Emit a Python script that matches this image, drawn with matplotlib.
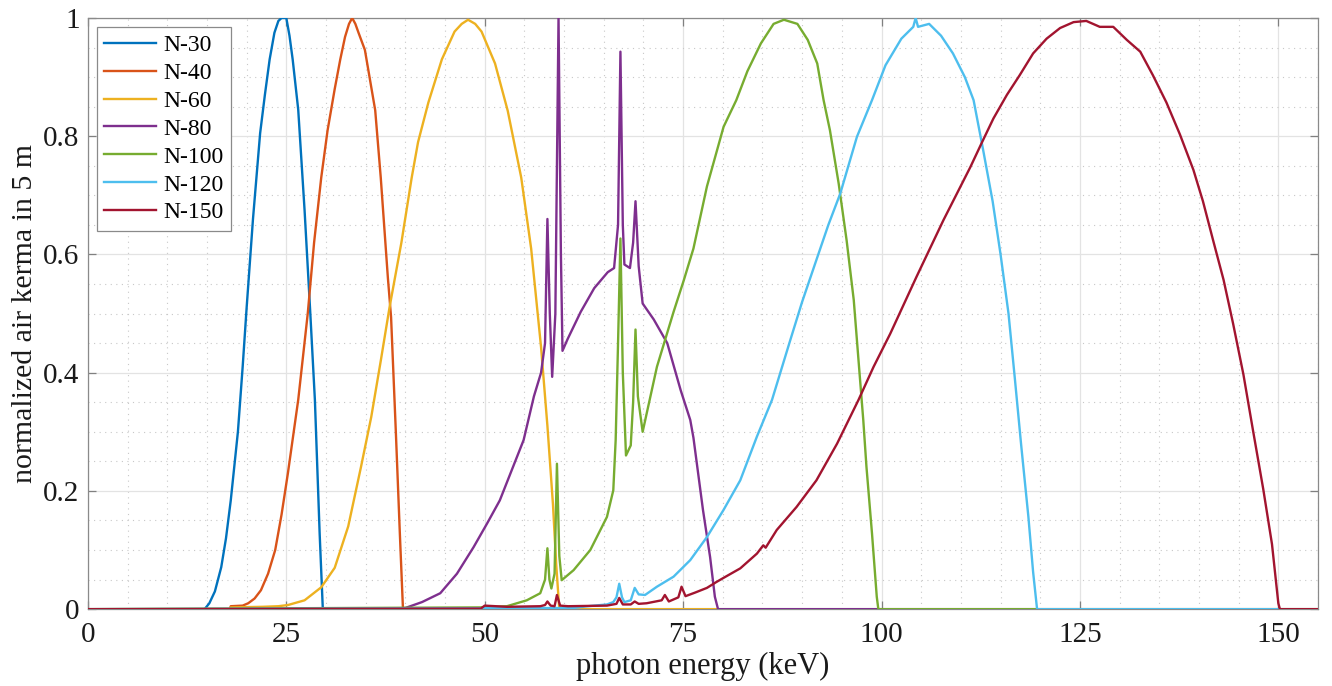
import matplotlib.pyplot as plt
from matplotlib.ticker import MultipleLocator

plt.rcParams['font.family'] = ['Liberation Serif', 'DejaVu Serif']

# ---------------------------------------------------------------------------
# DATA: normalized air kerma spectra
# ---------------------------------------------------------------------------
labels = ['N-30', 'N-40', 'N-60', 'N-80', 'N-100', 'N-120', 'N-150']
colors = ['#0072BD', '#D95319', '#EDB120', '#7E2F8E', '#77AC30', '#4DBEEE', '#A2142F']

e_n30 = [0, 14.7, 15.3, 16.0, 16.8, 17.4, 18.0, 18.9, 19.5, 20.0, 20.8, 21.7, 22.3,
         22.9, 23.5, 24.0, 24.4, 25.0, 25.4, 25.8, 26.5, 27.3, 28.0, 28.6, 29.2, 29.6,
         30.0, 155]
k_n30 = [0, 0, 0.01, 0.03, 0.071, 0.12, 0.184, 0.30, 0.41, 0.51, 0.66, 0.805, 0.87,
         0.93, 0.975, 0.995, 1.0, 1.0, 0.97, 0.93, 0.845, 0.675, 0.506, 0.354, 0.128, 0.0,
         0, 0]

e_n40 = [0, 17.9, 18.0, 19.5, 20.2, 21.0, 21.8, 22.7, 23.6, 24.4, 25.2, 26.5, 27.7, 28.5,
         29.4, 30.2, 31.1, 31.8, 32.4, 32.9, 33.3, 33.7, 34.1, 34.9, 36.2, 36.9, 37.8,
         38.2, 38.8, 39.3, 39.7, 40.2, 155]
k_n40 = [0, 0, 0.005, 0.006, 0.01, 0.018, 0.032, 0.06, 0.1, 0.16, 0.23, 0.354, 0.50, 0.62,
         0.73, 0.81, 0.88, 0.93, 0.968, 0.99, 1.0, 0.99, 0.975, 0.946, 0.844, 0.73, 0.56,
         0.494, 0.30, 0.13, 0.0, 0, 0]

e_n60 = [0, 17.9, 18.0, 22.0, 24.0, 25.2, 27.3, 29.4, 31.1, 32.8, 34.4, 35.7, 36.9, 38.0,
         39.5, 40.8, 41.6, 42.9, 44.6, 46.2, 47.1, 47.9, 48.8, 49.6, 51.3, 52.9, 54.6,
         55.85, 57.1, 57.9, 58.6, 59.0, 59.4, 155]
k_n60 = [0, 0, 0.003, 0.004, 0.005, 0.007, 0.015, 0.037, 0.07, 0.14, 0.24, 0.325, 0.42, 0.51,
         0.62, 0.73, 0.79, 0.857, 0.93, 0.977, 0.99, 0.997, 0.99, 0.977, 0.923, 0.843, 0.73,
         0.61, 0.443, 0.31, 0.177, 0.077, 0.0, 0]

e_n80 = [0, 38.0, 40.0, 42.1, 44.4, 46.5, 48.6, 50.3, 51.9, 53.4, 54.9, 56.2, 57.1, 57.6,
         57.9, 58.2, 58.5, 58.9, 59.3, 59.6, 59.8, 60.45, 62.1, 63.8, 65.5, 66.3, 66.8,
         67.1, 67.4, 67.6, 68.3, 68.7, 69.0, 69.4, 69.9, 71.3, 73.0, 74.7, 75.9, 76.3,
         77.5, 78.4, 79.0, 79.4, 155]
k_n80 = [0, 0, 0.002, 0.012, 0.027, 0.06, 0.105, 0.145, 0.184, 0.235, 0.286, 0.36, 0.40, 0.45,
         0.66, 0.5, 0.393, 0.5, 1.0, 0.6, 0.437, 0.457, 0.503, 0.543, 0.57, 0.577, 0.65,
         0.943, 0.65, 0.583, 0.577, 0.62, 0.69, 0.58, 0.517, 0.49, 0.45, 0.37, 0.32, 0.29,
         0.168, 0.088, 0.021, 0.0, 0]

e_n100 = [0, 49.8, 52.8, 55.3, 57.0, 57.6, 57.9, 58.15, 58.4, 58.8, 59.1, 59.4, 59.7, 61.2,
          63.3, 65.4, 66.2, 66.5, 66.8, 67.1, 67.4, 67.8, 68.4, 68.7, 69.0, 69.3, 69.9,
          71.7, 73.8, 75.1, 76.3, 78.0, 80.1, 81.7, 83.1, 84.8, 86.4, 87.7, 89.4, 90.7,
          91.9, 92.7, 93.5, 94.6, 95.6, 96.5, 97.1, 97.7, 98.1, 98.8, 99.4, 99.6, 155]
k_n100 = [0, 0.003, 0.005, 0.015, 0.027, 0.05, 0.103, 0.05, 0.035, 0.06, 0.246, 0.09, 0.049,
          0.066, 0.1, 0.156, 0.201, 0.286, 0.45, 0.627, 0.4, 0.26, 0.277, 0.35, 0.473, 0.36,
          0.30, 0.41, 0.503, 0.557, 0.61, 0.715, 0.816, 0.861, 0.91, 0.957, 0.99, 0.997,
          0.99, 0.963, 0.923, 0.861, 0.81, 0.72, 0.624, 0.523, 0.421, 0.32, 0.241, 0.128,
          0.021, 0.0, 0]

e_n120 = [0, 61.2, 63.0, 65.4, 66.2, 66.6, 66.95, 67.3, 67.6, 68.4, 68.9, 69.4, 70.2, 71.7,
          73.8, 75.9, 78.0, 80.1, 82.2, 84.3, 86.2, 88.5, 90.0, 91.8, 93.3, 94.8, 96.9,
          98.8, 100.5, 102.5, 104.0, 104.3, 104.6, 106.0, 107.5, 109.0, 110.5, 111.6, 112.8,
          114.0, 115.0, 116.0, 116.8, 117.6, 118.5, 119.1, 119.6, 155]
k_n120 = [0, 0.002, 0.005, 0.008, 0.012, 0.02, 0.043, 0.02, 0.012, 0.015, 0.036, 0.025, 0.024,
          0.038, 0.055, 0.083, 0.122, 0.168, 0.218, 0.292, 0.354, 0.455, 0.52, 0.591, 0.65,
          0.703, 0.799, 0.861, 0.92, 0.965, 0.985, 1.0, 0.985, 0.99, 0.97, 0.94, 0.90,
          0.861, 0.777, 0.69, 0.60, 0.50, 0.39, 0.277, 0.157, 0.063, 0.0, 0]

e_n150 = [0, 49.5, 50.0, 52.8, 57.0, 57.6, 57.9, 58.3, 58.8, 59.1, 59.5, 60.5, 65.4, 66.6,
          66.95, 67.4, 68.4, 68.9, 69.4, 70.4, 72.3, 72.7, 73.2, 74.4, 74.8, 75.3, 76.5,
          78.0, 79.2, 80.1, 82.2, 84.3, 85.1, 85.4, 86.8, 89.3, 91.8, 94.4, 97.1, 99.0,
          101.1, 104.4, 107.8, 111.2, 112.6, 114.1, 115.8, 117.4, 119.1, 120.8, 122.5,
          124.2, 125.8, 127.5, 129.2, 130.9, 132.6, 134.2, 135.9, 137.6, 139.3, 140.5,
          141.8, 143.1, 144.3, 145.6, 146.8, 148.1, 149.2, 150.0, 150.2, 155]
k_n150 = [0, 0.001, 0.006, 0.004, 0.005, 0.007, 0.013, 0.006, 0.005, 0.024, 0.006, 0.005,
          0.006, 0.009, 0.019, 0.008, 0.008, 0.013, 0.009, 0.01, 0.015, 0.024, 0.013, 0.02,
          0.038, 0.022, 0.028, 0.036, 0.046, 0.053, 0.069, 0.094, 0.108, 0.104, 0.134,
          0.173, 0.218, 0.28, 0.354, 0.41, 0.466, 0.562, 0.658, 0.748, 0.788, 0.83, 0.87,
          0.903, 0.94, 0.965, 0.983, 0.993, 0.995, 0.985, 0.985, 0.963, 0.943, 0.903,
          0.857, 0.803, 0.743, 0.69, 0.623, 0.557, 0.483, 0.397, 0.303, 0.203, 0.11, 0.01,
          0, 0]

energies = [e_n30, e_n40, e_n60, e_n80, e_n100, e_n120, e_n150]
kermas = [k_n30, k_n40, k_n60, k_n80, k_n100, k_n120, k_n150]

x_ticks = [0, 25, 50, 75, 100, 125, 150]
y_ticks = [0, 0.2, 0.4, 0.6, 0.8, 1]
y_ticklabels = ['0', '0.2', '0.4', '0.6', '0.8', '1']

# ---------------------------------------------------------------------------
# PLOT
# ---------------------------------------------------------------------------
fig = plt.figure(figsize=(13.32, 6.86), dpi=100)
ax = fig.add_axes([0.066, 0.112, 0.9235, 0.8618])

for e, k, lab, c in zip(energies, kermas, labels, colors):
    ax.plot(e, k, color=c, lw=1.7, label=lab, zorder=3)

ax.set_xlim(0, 155)
ax.set_ylim(0, 1)
ax.set_xticks(x_ticks)
ax.set_yticks(y_ticks)
ax.set_yticklabels(y_ticklabels)
ax.xaxis.set_minor_locator(MultipleLocator(5))
ax.yaxis.set_minor_locator(MultipleLocator(0.05))

ax.grid(which='major', color='#e3e3e3', lw=0.9, ls='-', zorder=0)
ax.grid(which='minor', color='#c8c8c8', lw=0.8, ls=(0, (1, 4)), zorder=0)
ax.set_axisbelow(True)

ax.tick_params(which='major', direction='in', length=6, width=0.9, color='#808080',
               labelsize=21, top=True, right=True, labelcolor='#1a1a1a')
ax.tick_params(axis='x', which='major', pad=9)
ax.tick_params(axis='y', which='major', pad=6)
ax.tick_params(which='minor', length=0)
for s in ax.spines.values():
    s.set_color('#8a8a8a')
    s.set_linewidth(0.9)

ax.set_xlabel('photon energy (keV)', fontsize=22, color='#1a1a1a', labelpad=3)
ax.set_ylabel('normalized air kerma in 5 m', fontsize=21.5, color='#1a1a1a', labelpad=4)

leg = ax.legend(loc='upper left', fontsize=17, frameon=True, fancybox=False,
                edgecolor='#8a8a8a', framealpha=1, borderaxespad=0.4,
                handlelength=2.2, handletextpad=0.3, labelspacing=0.27,
                borderpad=0.3)
leg.get_frame().set_linewidth(0.9)

plt.savefig('out.png', dpi=100, facecolor='white')
